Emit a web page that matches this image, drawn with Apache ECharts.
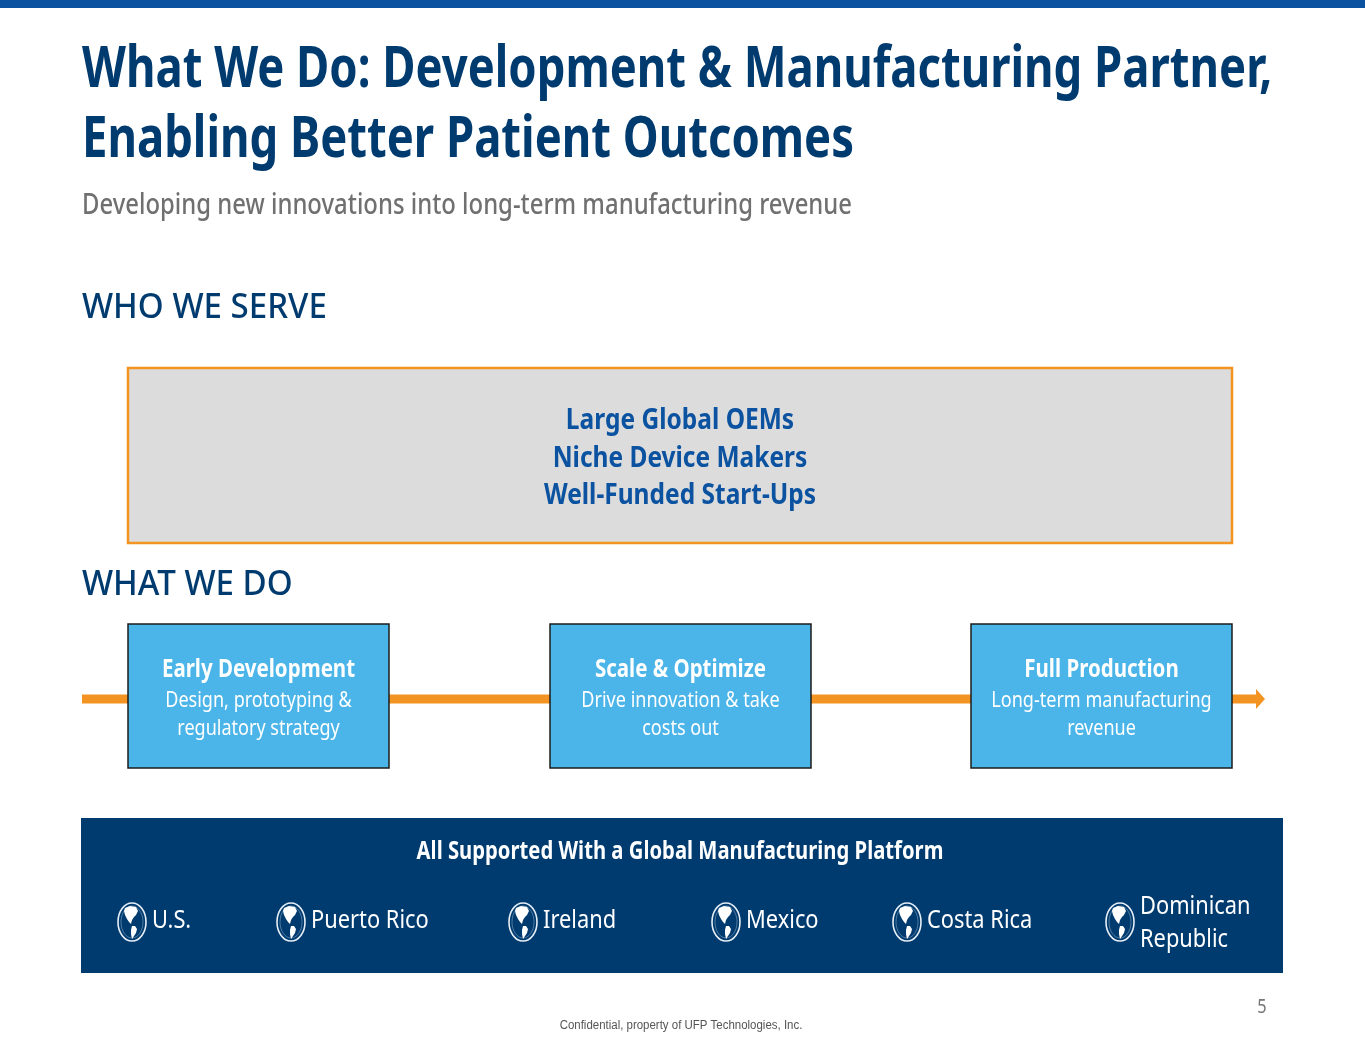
<!DOCTYPE html>
<html style="height: 100%">
<head>
    <meta charset="utf-8">
    <title>What We Do</title>
</head>
<body style="height: 100%; margin: 0; background: #fff">
<div id="container" style="width: 1365px; height: 1055px"></div>
<script type="text/javascript" src="https://cdn.jsdelivr.net/npm/echarts@6/dist/echarts.min.js"></script>
<script type="text/javascript">
// slide content
var titleLines = ['What We Do: Development & Manufacturing Partner,', 'Enabling Better Patient Outcomes'];
var subtitle = 'Developing new innovations into long-term manufacturing revenue';
var serveHeading = 'WHO WE SERVE';
var customers = ['Large Global OEMs', 'Niche Device Makers', 'Well-Funded Start-Ups'];
var doHeading = 'WHAT WE DO';
var stageNames = ['Early Development', 'Scale & Optimize', 'Full Production'];
var stageDesc = [
    ['Design, prototyping &', 'regulatory strategy'],
    ['Drive innovation & take', 'costs out'],
    ['Long-term manufacturing', 'revenue']
];
var platformTitle = 'All Supported With a Global Manufacturing Platform';
var locations = [['U.S.'], ['Puerto Rico'], ['Ireland'], ['Mexico'], ['Costa Rica'], ['Dominican', 'Republic']];
var pageNumber = '5';
var footer = 'Confidential, property of UFP Technologies, Inc.';

// layout
var stageLeft = [128, 550, 971];
var locIconX = [132, 291, 523, 726, 907, 1120];

var NAVY = '#003b70';
var BLUE = '#0b52a0';
var ORANGE = '#f39322';
var SKY = '#4bb4e8';
var FONT = '"Noto Sans", sans-serif';

var dom = document.getElementById('container');
var myChart = echarts.init(dom, null, { renderer: 'canvas' });

// text on the slide looks horizontally squeezed, hence sx
function txt(x, y, s, size, color, weight, align, sx) {
    return {
        type: 'text', x: x, y: y, scaleX: sx,
        style: {
            text: s, fontSize: size, fontWeight: weight || 'normal', fontFamily: FONT,
            fill: color, align: align || 'left', verticalAlign: 'middle'
        }
    };
}

function globe(cx, cy) {
    return {
        type: 'group', x: cx, y: cy,
        children: [
            { type: 'ellipse', shape: { cx: 0, cy: 0, rx: 14, ry: 19 },
              style: { fill: 'none', stroke: '#e6eef6', lineWidth: 1.6 } },
            { type: 'ellipse', shape: { cx: 0, cy: 0, rx: 11, ry: 16 },
              style: { fill: 'none', stroke: 'rgba(230,238,246,0.35)', lineWidth: 1 } },
            { type: 'polygon',
              shape: { points: [[-7, -14], [-2, -16], [4, -15], [6, -11], [4, -7], [2, -5], [0, -2], [-1, 2], [-3, 0], [-5, -3], [-7, -7], [-8, -11]] },
              style: { fill: '#ffffff' } },
            { type: 'polygon',
              shape: { points: [[0, 4], [3, 4], [5, 7], [4, 11], [2, 14], [0, 17], [-1, 12], [-1, 8]] },
              style: { fill: '#ffffff' } }
        ]
    };
}

var els = [];
// top stripe
els.push({ type: 'rect', shape: { x: 0, y: 0, width: 1365, height: 8 }, style: { fill: BLUE } });
// title
titleLines.forEach(function (t, i) {
    els.push(txt(82, 70 + i * 70, t, 58, NAVY, 'bold', 'left', 0.783));
});
els.push(txt(82, 206, subtitle, 28, '#707070', '500', 'left', 0.853));

// who we serve
els.push(txt(82, 308, serveHeading, 35, NAVY, '500', 'left', 0.945));
els.push({ type: 'rect', shape: { x: 128, y: 368, width: 1104, height: 175 },
    style: { fill: '#dcdcdc', stroke: ORANGE, lineWidth: 2.5 } });
customers.forEach(function (c, i) {
    els.push(txt(680, 421 + i * 37.5, c, 29, BLUE, 'bold', 'center', 0.845));
});

// what we do
els.push(txt(82, 585, doHeading, 35, NAVY, '500', 'left', 0.945));
els.push({ type: 'line', shape: { x1: 82, y1: 699, x2: 1258, y2: 699 },
    style: { stroke: ORANGE, lineWidth: 9 } });
els.push({ type: 'polygon', shape: { points: [[1256, 689], [1265, 699], [1256, 709]] },
    style: { fill: ORANGE } });
stageNames.forEach(function (n, i) {
    var x = stageLeft[i];
    els.push({ type: 'rect', shape: { x: x, y: 624, width: 261, height: 144 },
        style: { fill: SKY, stroke: '#1c1c1c', lineWidth: 1.5 } });
    els.push(txt(x + 130.5, 670, n, 25, '#ffffff', 'bold', 'center', 0.82));
    stageDesc[i].forEach(function (d, j) {
        els.push(txt(x + 130.5, 701 + j * 28, d, 22, '#ffffff', 'normal', 'center', 0.82));
    });
});

// platform band
els.push({ type: 'rect', shape: { x: 81, y: 818, width: 1202, height: 155 }, style: { fill: NAVY } });
els.push(txt(680, 852, platformTitle, 25, '#ffffff', 'bold', 'center', 0.81));
locations.forEach(function (loc, i) {
    var cx = locIconX[i];
    els.push(globe(cx, 922));
    loc.forEach(function (l, j) {
        var y = loc.length === 1 ? 921 : 907 + j * 33;
        els.push(txt(cx + 20, y, l, 26, '#ffffff', 'normal', 'left', 0.84));
    });
});

// footer
els.push(txt(1262, 1008, pageNumber, 19, '#777777', 'normal', 'center', 0.86));
els.push({ type: 'text', x: 681, y: 1026, scaleX: 0.955,
    style: { text: footer, fontSize: 12, fontFamily: '"Liberation Sans", Arial, sans-serif',
        fill: '#555555', align: 'center', verticalAlign: 'middle' } });

var option = {
    animation: false,
    graphic: { elements: els }
};
if (option && typeof option === 'object') {
    myChart.setOption(option);
}
</script>
</body>
</html>
